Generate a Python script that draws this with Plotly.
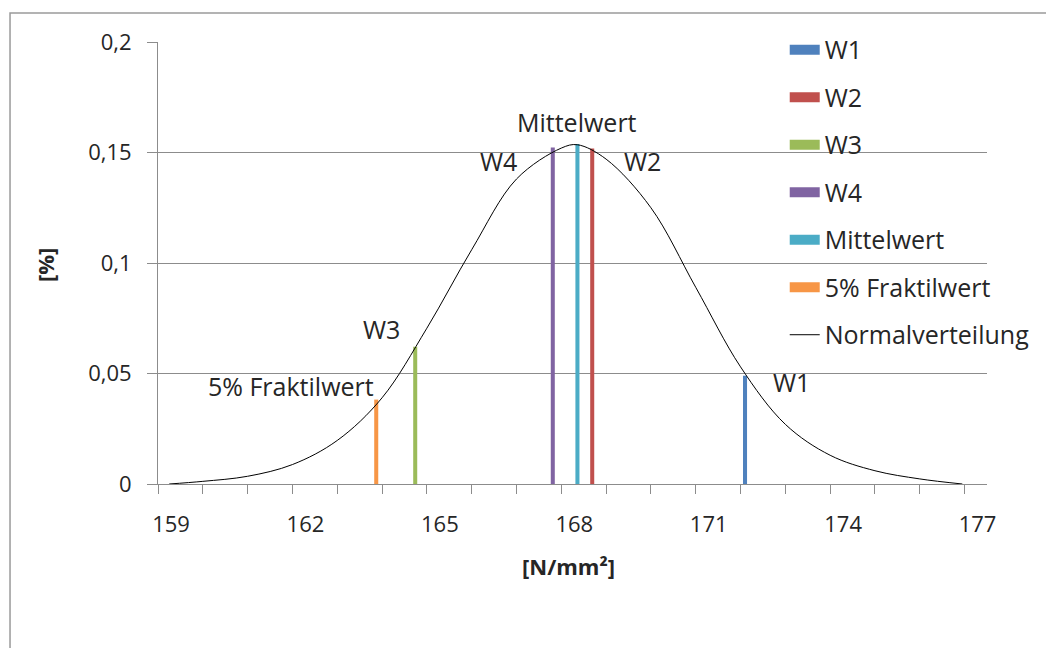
import plotly.graph_objects as go

# values
marker_names = ["W1", "W2", "W3", "W4", "Mittelwert", "5% Fraktilwert"]
marker_x = [172.1, 168.69, 164.74, 167.81, 168.36, 163.87]
marker_y = [0.049, 0.1518, 0.0621, 0.1523, 0.1538, 0.0382]
marker_colors = ["#4F81BD", "#C0504D", "#9BBB59", "#8064A2", "#4BACC6", "#F79646"]

curve_x = [159.25, 160, 161, 162, 163, 164, 165, 166, 167, 168, 168.36,
           169, 170, 171, 172, 173, 174, 175, 176, 176.95]
curve_y = [0, 0.0012, 0.0035, 0.0088, 0.0197, 0.039, 0.0705, 0.106, 0.138, 0.152, 0.1535,
           0.147, 0.125, 0.089, 0.053, 0.027, 0.013, 0.006, 0.0023, 0]

FONT = "Open Sans"
GRID = "#8c8c8c"
TXT = "#262626"

fig = go.Figure()

for name, x, y, c in zip(marker_names, marker_x, marker_y, marker_colors):
    fig.add_trace(go.Bar(x=[x], y=[y], width=0.09, marker_color=c, marker_line_width=0,
                         name=name, showlegend=False))
    # legend entry drawn as a thick line so the swatch looks like Excel's
    fig.add_trace(go.Scatter(x=[None], y=[None], mode="lines", name=name,
                             line=dict(color=c, width=14), legendgroup=name))

fig.add_trace(go.Scatter(x=curve_x, y=curve_y, mode="lines", name="Normalverteilung",
                         line=dict(color="black", width=1, shape="spline", smoothing=1),
                         legendgroup="Normalverteilung"))

labels = [
    ("Mittelwert", 168.34, 0.164),
    ("W4", 166.59, 0.146),
    ("W2", 169.81, 0.146),
    ("W3", 163.98, 0.070),
    ("5% Fraktilwert", 161.97, 0.0444),
    ("W1", 173.14, 0.0462),
]
for text, x, y in labels:
    fig.add_annotation(x=x, y=y, text=text, showarrow=False,
                       font=dict(family=FONT, size=25, color=TXT))

fig.add_annotation(xref="paper", yref="paper", x=0.4946, y=-0.1855, text="<b>[N/mm²]</b>",
                   xanchor="center", yanchor="middle", showarrow=False,
                   font=dict(family=FONT, size=22, color=TXT))
fig.add_annotation(xref="paper", yref="paper", x=-0.1363, y=0.4955, text="<b>[%]</b>",
                   xanchor="center", yanchor="middle", textangle=-90, showarrow=False,
                   font=dict(family=FONT, size=22, color=TXT))

# chart area border
fig.add_shape(type="rect", xref="paper", yref="paper", x0=-0.1785, x1=1.2, y0=-0.5, y1=1.0656,
              line=dict(color="#9a9a9a", width=1.5))

fig.update_layout(
    width=1046, height=640,
    margin=dict(l=150, r=67, t=34, b=164),
    paper_bgcolor="white", plot_bgcolor="white",
    separators=",.",
    barmode="overlay",
    font=dict(family=FONT, size=22, color=TXT),
    legend=dict(x=0.756, y=1.034, xanchor="left", yanchor="top", bgcolor="rgba(0,0,0,0)",
                font=dict(size=25), tracegroupgap=12, traceorder="grouped", itemwidth=30,
                maxheight=600),
)
fig.update_xaxes(
    range=[159, 177.5], tick0=159, dtick=3, showgrid=False, zeroline=False,
    showline=True, linecolor=GRID, ticks="outside", ticklen=9, tickcolor=GRID,
    ticklabelshift=13, ticklabelstandoff=12,
    minor=dict(dtick=1, ticks="outside", ticklen=9, tickcolor=GRID),
)
fig.update_yaxes(
    range=[0, 0.2], dtick=0.05, showgrid=True, gridcolor=GRID, gridwidth=1, zeroline=False,
    showline=True, linecolor=GRID, ticks="outside", ticklen=10, tickcolor=GRID,
    ticklabelstandoff=11,
)

fig.write_html("out.html")
